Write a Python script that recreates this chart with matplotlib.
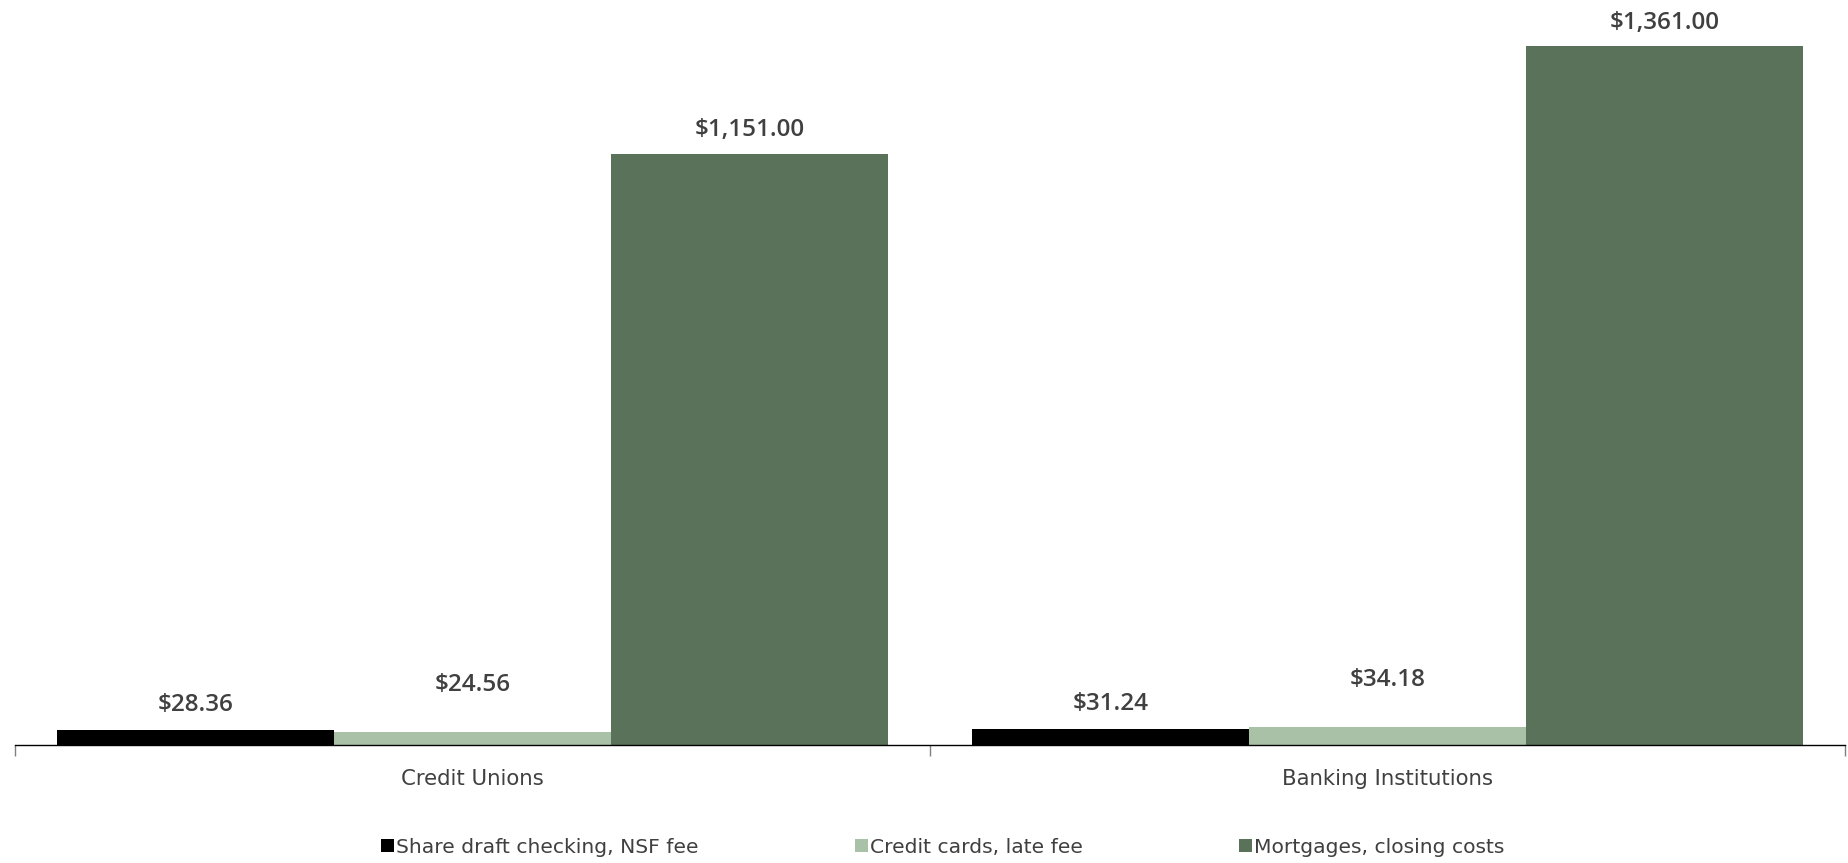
import matplotlib
matplotlib.use("Agg")
import matplotlib.pyplot as plt
import numpy as np
from matplotlib.patches import Patch

categories = ["Credit Unions", "Banking Institutions"]
series_names = ["Share draft checking, NSF fee", "Credit cards, late fee", "Mortgages, closing costs"]
nsf_fee = [28.36, 31.24]
late_fee = [24.56, 34.18]
closing_costs = [1151.00, 1361.00]
series_values = [nsf_fee, late_fee, closing_costs]

colors = ["#000000", "#A8C1A7", "#5A7259"]
label_offsets = [18, 34, 17]  # points above bar top
text_color = "#404040"

W, H = 1848, 863
fig = plt.figure(figsize=(W / 100, H / 100), dpi=100)
ax = fig.add_axes([15 / W, (H - 745) / H, (1845 - 15) / W, 745 / H])

x = np.arange(len(categories))
bw = 0.303
for i, (name, vals) in enumerate(zip(series_names, series_values)):
    pos = x + (i - 1) * bw
    bars = ax.bar(pos, vals, width=bw, color=colors[i], label=name, zorder=2)
    for b, v in zip(bars, vals):
        ax.annotate(f"${v:,.2f}", (b.get_x() + b.get_width() / 2, b.get_height()),
                    xytext=(0, label_offsets[i]), textcoords="offset points",
                    ha="center", va="center", color=text_color,
                    fontsize=17.5, fontweight="semibold",
                    family=["Open Sans", "DejaVu Sans"], clip_on=False)

ax.set_xlim(-0.5, len(categories) - 0.5)
ax.set_ylim(0, 1451)
ax.set_yticks([])
for s in ["top", "right", "left"]:
    ax.spines[s].set_visible(False)
ax.spines["bottom"].set_color("#000000")
ax.spines["bottom"].set_linewidth(1.0)

ax.set_xticks(x)
ax.set_xticklabels(categories, fontsize=15.3, color=text_color, fontweight="medium",
                   family=["DejaVu Sans"])
ax.tick_params(axis="x", which="major", length=0, pad=17)
ax.set_xticks(np.arange(len(categories) + 1) - 0.5, minor=True)
ax.tick_params(axis="x", which="minor", length=8, color="#808080", width=1)

handles = [Patch(facecolor=c, edgecolor="none") for c in colors]
leg = fig.legend(handles, series_names, loc="center", bbox_to_anchor=(800 / 1568, 1 - 847 / H),
                 ncol=3, frameon=False, handlelength=0.62, handleheight=0.62,
                 handletextpad=0.12, columnspacing=7.7,
                 prop={"family": ["DejaVu Sans"], "size": 14.6})
for t in leg.get_texts():
    t.set_color(text_color)

fig.savefig("out.png", dpi=100)
